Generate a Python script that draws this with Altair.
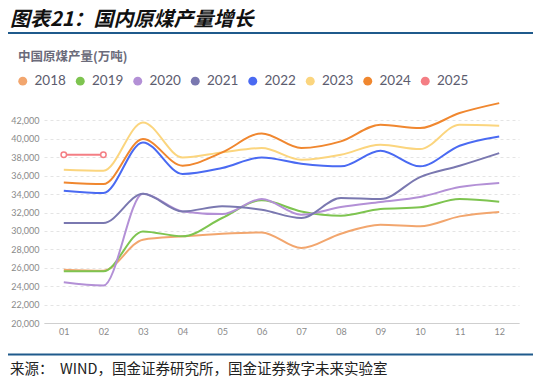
import altair as alt
import pandas as pd

months = ["01", "02", "03", "04", "05", "06", "07", "08", "09", "10", "11", "12"]
years = ["2018", "2019", "2020", "2021", "2022", "2023", "2024", "2025"]
y2018 = [25790, 25680, 29050, 29410, 29700, 29840, 28140, 29700, 30680, 30500, 31580, 32050]
y2019 = [25610, 25610, 29950, 29410, 31400, 33320, 32120, 31650, 32380, 32560, 33460, 33170]
y2020 = [24420, 24060, 34040, 32120, 31830, 33460, 31760, 32590, 33140, 33680, 34760, 35200]
y2021 = [30860, 30860, 34040, 32120, 32670, 32300, 31400, 33570, 33460, 35850, 37080, 38450]
y2022 = [34370, 34110, 39610, 36180, 36830, 37980, 37300, 37010, 38710, 37010, 39250, 40260]
y2023 = [36650, 36540, 41780, 37980, 38530, 39000, 37730, 38270, 39360, 38890, 41530, 41420]
y2024 = [35270, 35090, 39970, 37080, 38530, 40590, 39000, 39720, 41530, 41170, 42800, 43880]
y2025 = [38270, 38270]
colors = ["#F2A66E", "#7EC450", "#B390D6", "#7A78B0", "#4A6AF2", "#FBD57E", "#F0872F", "#F47E84"]
y_ticks = [20000, 22000, 24000, 26000, 28000, 30000, 32000, 34000, 36000, 38000, 40000, 42000]

title_text = ["图表21：国内原煤产量增长"]
subtitle_text = ["中国原煤产量(万吨)"]
source_text = ["来源：\u00a0\u00a0WIND，国金证券研究所，国金证券数字未来实验室"]

series = [y2018, y2019, y2020, y2021, y2022, y2023, y2024, y2025]
rows = []
for yr, vals in zip(years, series):
    for m, v in zip(months, vals):
        rows.append({"year": yr, "month": m, "value": v})
df = pd.DataFrame(rows)

W, H = 475, 221

x_enc = alt.X("month:O", scale=alt.Scale(type="point", padding=0.5, domain=months),
              axis=alt.Axis(title=None, labelAngle=0, ticks=False, domainColor="#cfcfcf",
                            labelFont="Lato", labelFontSize=9, labelColor="#8a8a8a",
                            labelPadding=4, grid=False))
y_enc = alt.Y("value:Q", scale=alt.Scale(domain=[20000, 44000], nice=False, zero=False),
              axis=alt.Axis(title=None, values=y_ticks, format=",.0f", domain=False, ticks=False,
                            labelFont="Lato", labelFontSize=9, labelColor="#8a8a8a",
                            labelPadding=5, grid=True, gridDash=[3, 3], gridColor="#e4e4e4"))
color_scale = alt.Scale(domain=years, range=colors)
legend = alt.Legend(title=None, orient="none", direction="horizontal",
                    legendX=-28, legendY=-28, symbolType="circle",
                    symbolSize=80, labelFont="Lato", labelFontSize=13.5,
                    labelColor="#5c5c6e", labelOffset=5, columnPadding=7.5,
                    symbolStrokeWidth=0)

legend_pts = alt.Chart(df).mark_circle(size=0, opacity=1).encode(
    x=x_enc, y=y_enc,
    color=alt.Color("year:N", scale=color_scale, legend=legend),
)

lines = alt.Chart(df).mark_line(interpolate="monotone", strokeWidth=2).encode(
    x=x_enc, y=y_enc,
    color=alt.Color("year:N", scale=color_scale, legend=legend),
)

pts2025 = alt.Chart(df[df["year"] == "2025"]).mark_point(
    shape="circle", filled=True, fill="white", stroke="#F47E84", strokeWidth=1.5,
    size=30, opacity=1).encode(x=x_enc, y=y_enc)

title = alt.Chart(pd.DataFrame({"t": title_text})).mark_text(
    align="left", baseline="top", font="Noto Sans CJK SC", fontSize=20,
    fontWeight="bold", fontStyle="italic", color="#111111").encode(
    x=alt.value(-34), y=alt.value(-92), text="t:N")

subtitle = alt.Chart(pd.DataFrame({"t": subtitle_text})).mark_text(
    align="left", baseline="middle", font="Noto Sans CJK SC", fontSize=12.5,
    fontWeight="bold", color="#6b6b7a").encode(
    x=alt.value(-26), y=alt.value(-45), text="t:N")

source = alt.Chart(pd.DataFrame({"t": source_text})).mark_text(
    align="left", baseline="middle", font="Noto Sans CJK SC", fontSize=14.5,
    color="#222222").encode(
    x=alt.value(-34), y=alt.value(267.5), text="t:N")

top_rule = alt.Chart(pd.DataFrame({"t": [0]})).mark_rule(color="#1f5a8c", strokeWidth=2).encode(
    x=alt.value(-39), x2=alt.value(491), y=alt.value(-69))
bottom_rule = alt.Chart(pd.DataFrame({"t": [0]})).mark_rule(color="#1f5a8c", strokeWidth=2).encode(
    x=alt.value(-39), x2=alt.value(491), y=alt.value(252.5))

chart = alt.layer(legend_pts, lines, pts2025, title, subtitle, source, top_rule, bottom_rule).properties(
    width=W, height=H,
    autosize=alt.AutoSizeParams(type="none"),
    padding={"left": 36, "top": 94, "right": 14, "bottom": 54},
    background="white",
).configure_view(stroke=None)

chart.save("out.html", embed_options={"renderer": "svg", "actions": False})
